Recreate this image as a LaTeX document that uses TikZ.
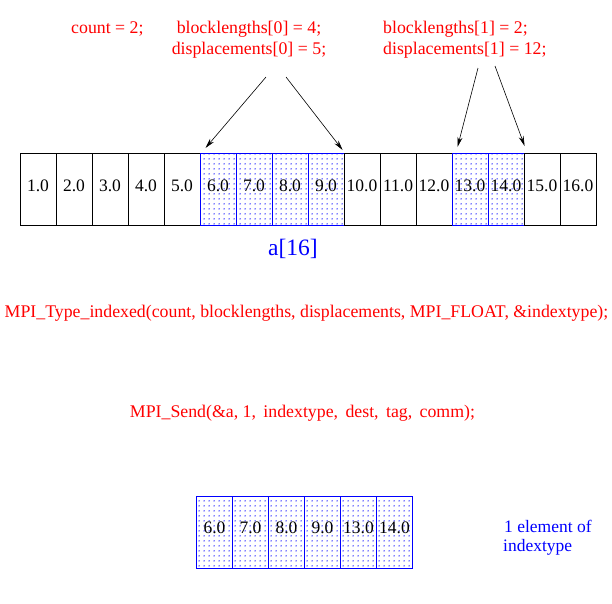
\documentclass[tikz,border=0pt]{standalone}
\usepackage{fontspec}
\setmainfont{Liberation Serif}
\usetikzlibrary{patterns.meta,arrows.meta}
\tikzdeclarepattern{
  name=fdots,
  type=uncolored,
  bounding box={(0pt,0pt) and (4.5pt,4.5pt)},
  tile size={(4.5pt,4.5pt)},
  code={\fill (1.2pt,1.2pt) circle (0.75pt);}
}
\begin{document}
\begin{tikzpicture}[x=1pt,y=-1pt,
  cell/.style={draw=black, line width=1.1pt, minimum width=36pt, minimum height=72pt,
    inner sep=0pt, anchor=north west, font=\fontsize{17.5}{17.5}\selectfont, text depth=7pt},
  hcell/.style={cell, draw=blue, pattern=fdots, pattern color=blue},
  code/.style={text=red, font=\fontsize{17.8}{20}\selectfont, inner sep=0pt},
  note/.style={text=blue, font=\fontsize{17.5}{19}\selectfont, inner sep=0pt, anchor=base west},
  arr/.style={-{Stealth[length=10pt,width=5pt]}, line width=0.6pt}
]
\useasboundingbox (0,0) rectangle (612,603);

% top texts
\node[code, anchor=base west] (cnt) at (71,33) {count = 2;};
\node[code, anchor=base] (bl0) at (249,33) {blocklengths[0] = 4;};
\node[code, anchor=base] (dp0) at (249,54) {displacements[0] = 5;};
\node[code, anchor=base west] (bl1) at (383,33) {blocklengths[1] = 2;};
\node[code, anchor=base west] (dp1) at (383,54) {displacements[1] = 12;};

% top array
\foreach \i/\s in {1/cell,2/cell,3/cell,4/cell,5/cell,6/hcell,7/hcell,8/hcell,9/hcell,
                   10/cell,11/cell,12/cell,13/hcell,14/hcell,15/cell,16/cell}
  \node[\s, xshift=1.5pt] (c\i) at ({18+36*(\i-1)},153) {\i.0};

\node[text=blue, font=\fontsize{23.5}{23.5}\selectfont, inner sep=0pt, anchor=base] (alab) at (293,255) {a[16]};

% arrows
\coordinate (s1) at (266,77);
\coordinate (s2) at (286,77);
\coordinate (s3) at (478,68);
\coordinate (s4) at (495,66);
\draw[arr] (s1) -- ([shift={(6,-5)}]c6.north west);
\draw[arr] (s2) -- ([shift={(-2,-3)}]c9.north east);
\draw[arr] (s3) -- ([shift={(6,-6)}]c13.north west);
\draw[arr] (s4) -- ([shift={(0,-7)}]c14.north east);

% calls
\node[code, anchor=base] (tind) at (306.5,317) {MPI\_Type\_indexed(count, blocklengths, displacements, MPI\_FLOAT, \&indextype);};
\node[code, anchor=base] (send) at (302.5,417) {MPI\_Send(\&a, 1,\, indextype,\, dest,\, tag,\, comm);};

% bottom array
\foreach \i/\t in {1/6.0,2/7.0,3/8.0,4/9.0,5/13.0,6/14.0}
  \node[hcell, text depth=9pt] (d\i) at ({196+36*(\i-1)},496) {\t};

\node[note] (el1) at (504,532) {1 element of};
\node[note] (el2) at (503,551) {indextype};
\end{tikzpicture}
\end{document}
